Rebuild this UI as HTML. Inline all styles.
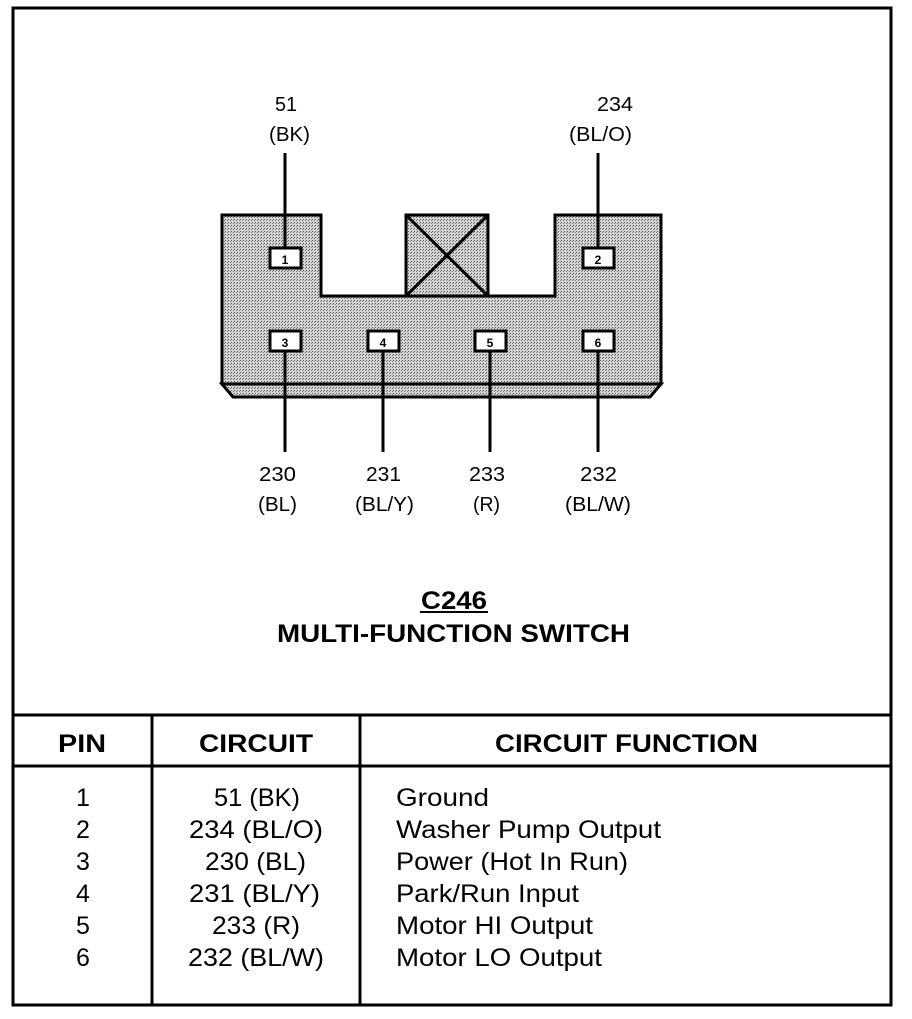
<!DOCTYPE html>
<html><head><style>
body{margin:0;background:#fff;}
svg text{font-family:"Liberation Sans",Arial,sans-serif;fill:#000;}
</style></head><body>
<svg width="912" height="1014" viewBox="0 0 912 1014" xmlns="http://www.w3.org/2000/svg">
<defs>
<pattern id="dots" width="3" height="3" patternUnits="userSpaceOnUse">
<rect width="3" height="3" fill="#d4d4d4"/>
<rect x="0" y="0" width="1" height="1" fill="#555"/>
<rect x="2" y="1" width="1" height="1" fill="#777"/>
</pattern>
</defs>
<rect x="13" y="8" width="878" height="997" fill="none" stroke="#000" stroke-width="3"/>
<path d="M222,384 L233,397 L650,397 L661,384 Z" fill="url(#dots)" stroke="#000" stroke-width="3"/>
<path d="M222,215 L321,215 L321,296 L555,296 L555,215 L661,215 L661,384 L222,384 Z" fill="url(#dots)" stroke="#000" stroke-width="3"/>
<rect x="406" y="215" width="82" height="81" fill="url(#dots)" stroke="#000" stroke-width="3"/>
<line x1="406" y1="215" x2="488" y2="296" stroke="#000" stroke-width="3"/>
<line x1="488" y1="215" x2="406" y2="296" stroke="#000" stroke-width="3"/>
<g stroke="#000" stroke-width="3">
<line x1="285" y1="153" x2="285" y2="248"/>
<line x1="598" y1="153" x2="598" y2="248"/>
<line x1="285" y1="350" x2="285" y2="452"/>
<line x1="383" y1="350" x2="383" y2="452"/>
<line x1="490" y1="350" x2="490" y2="452"/>
<line x1="598" y1="350" x2="598" y2="452"/>
</g>
<g stroke="#000" stroke-width="3" fill="#fff">
<rect x="270" y="248" width="31" height="20"/>
<rect x="583" y="248" width="31" height="20"/>
<rect x="270" y="331" width="31" height="20"/>
<rect x="368" y="331" width="31" height="20"/>
<rect x="475" y="331" width="31" height="20"/>
<rect x="583" y="331" width="31" height="20"/>
</g>
<g font-size="12" font-weight="bold" text-anchor="middle">
<text x="285" y="264">1</text><text x="598" y="264">2</text>
<text x="285" y="347">3</text><text x="383" y="347">4</text>
<text x="490" y="347">5</text><text x="598" y="347">6</text>
</g>
<g font-size="20">
<text x="275" y="111" textLength="22" lengthAdjust="spacingAndGlyphs">51</text><text x="269" y="141" textLength="41" lengthAdjust="spacingAndGlyphs">(BK)</text>
<text x="597" y="111" textLength="36" lengthAdjust="spacingAndGlyphs">234</text><text x="569" y="141" textLength="63" lengthAdjust="spacingAndGlyphs">(BL/O)</text>
<text x="259" y="481" textLength="37" lengthAdjust="spacingAndGlyphs">230</text><text x="258" y="511" textLength="39" lengthAdjust="spacingAndGlyphs">(BL)</text>
<text x="366" y="481" textLength="35" lengthAdjust="spacingAndGlyphs">231</text><text x="355" y="511" textLength="59" lengthAdjust="spacingAndGlyphs">(BL/Y)</text>
<text x="469" y="481" textLength="36" lengthAdjust="spacingAndGlyphs">233</text><text x="473" y="511" textLength="27" lengthAdjust="spacingAndGlyphs">(R)</text>
<text x="580" y="481" textLength="37" lengthAdjust="spacingAndGlyphs">232</text><text x="565" y="511" textLength="66" lengthAdjust="spacingAndGlyphs">(BL/W)</text>
</g>
<g font-size="25" font-weight="bold">
<text x="421" y="609" textLength="66" lengthAdjust="spacingAndGlyphs">C246</text>
<text x="277" y="642" textLength="353" lengthAdjust="spacingAndGlyphs">MULTI-FUNCTION SWITCH</text>
</g>
<line x1="420" y1="612" x2="488" y2="612" stroke="#000" stroke-width="2"/>
<g stroke="#000" stroke-width="3">
<line x1="13" y1="715" x2="891" y2="715"/>
<line x1="13" y1="766" x2="891" y2="766"/>
<line x1="152" y1="715" x2="152" y2="1005"/>
<line x1="360" y1="715" x2="360" y2="1005"/>
</g>
<g font-size="25" font-weight="bold">
<text x="58" y="752" textLength="48" lengthAdjust="spacingAndGlyphs">PIN</text>
<text x="199" y="752" textLength="114" lengthAdjust="spacingAndGlyphs">CIRCUIT</text>
<text x="495" y="752" textLength="263" lengthAdjust="spacingAndGlyphs">CIRCUIT FUNCTION</text>
</g>
<g font-size="25" text-anchor="middle">
<text x="83" y="806">1</text><text x="83" y="838">2</text><text x="83" y="870">3</text>
<text x="83" y="902">4</text><text x="83" y="934">5</text><text x="83" y="966">6</text>
</g>
<g font-size="25">
<text x="214" y="806" textLength="86" lengthAdjust="spacingAndGlyphs">51 (BK)</text>
<text x="189" y="838" textLength="134" lengthAdjust="spacingAndGlyphs">234 (BL/O)</text>
<text x="205" y="870" textLength="101" lengthAdjust="spacingAndGlyphs">230 (BL)</text>
<text x="189" y="902" textLength="131" lengthAdjust="spacingAndGlyphs">231 (BL/Y)</text>
<text x="212" y="934" textLength="88" lengthAdjust="spacingAndGlyphs">233 (R)</text>
<text x="188" y="966" textLength="136" lengthAdjust="spacingAndGlyphs">232 (BL/W)</text>
<text x="396" y="806" textLength="93" lengthAdjust="spacingAndGlyphs">Ground</text>
<text x="396" y="838" textLength="265" lengthAdjust="spacingAndGlyphs">Washer Pump Output</text>
<text x="396" y="870" textLength="232" lengthAdjust="spacingAndGlyphs">Power (Hot In Run)</text>
<text x="396" y="902" textLength="183" lengthAdjust="spacingAndGlyphs">Park/Run Input</text>
<text x="396" y="934" textLength="197" lengthAdjust="spacingAndGlyphs">Motor HI Output</text>
<text x="396" y="966" textLength="206" lengthAdjust="spacingAndGlyphs">Motor LO Output</text>
</g>
</svg>
</body></html>
